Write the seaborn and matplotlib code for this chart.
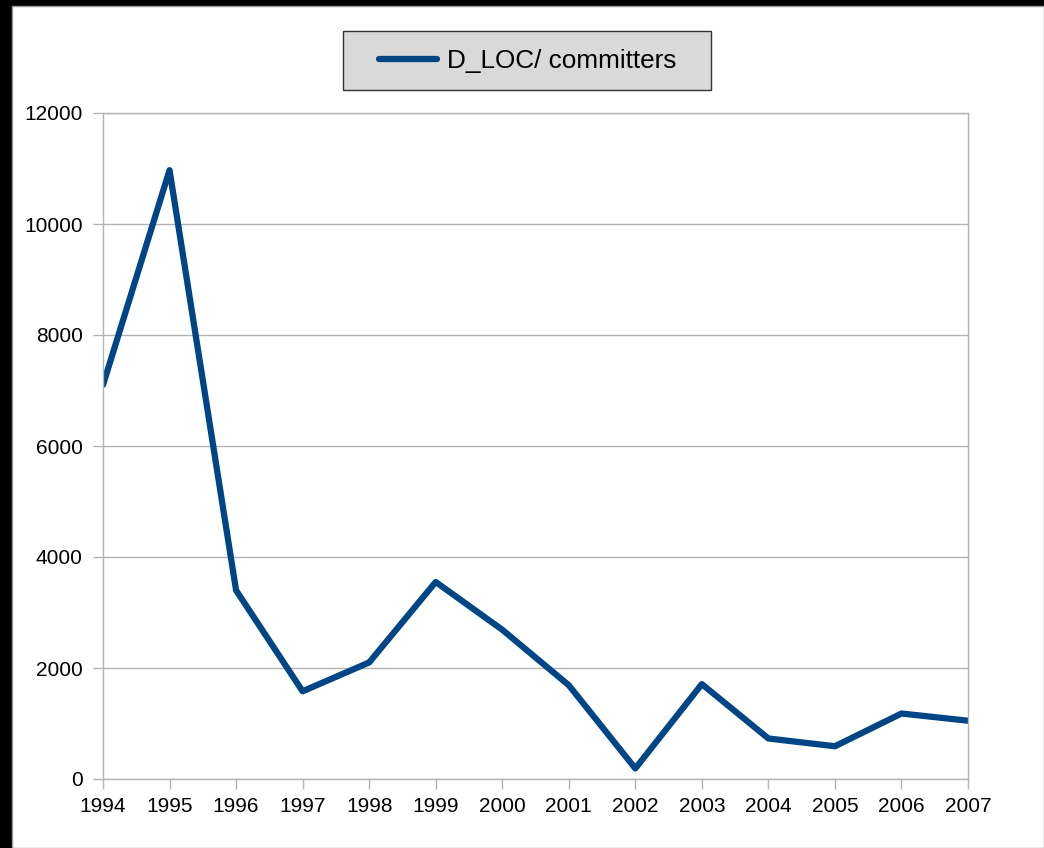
import matplotlib.pyplot as plt
import seaborn as sns
import pandas as pd
from matplotlib.patches import Rectangle

years = [1994, 1995, 1996, 1997, 1998, 1999, 2000, 2001, 2002, 2003, 2004, 2005, 2006, 2007]
dloc = [7100, 10970, 3400, 1580, 2100, 3550, 2690, 1690, 190, 1710, 730, 590, 1180, 1050]
series_name = "D_LOC/ committers"

df = pd.DataFrame({"year": years, "value": dloc})

sns.set_theme(style="white")
plt.rcParams['font.family'] = ['Liberation Sans', 'DejaVu Sans']

W, H = 1044, 848
fig = plt.figure(figsize=(W / 100, H / 100), dpi=100, facecolor="black")
# white page inside the black border
fig.patches.append(Rectangle((12 / W, 0), 1 - 12 / W, 1 - 6 / H,
                             transform=fig.transFigure, facecolor="white",
                             edgecolor="#999999", linewidth=1, zorder=-10))
# legend box
fig.patches.append(Rectangle((343 / W, 1 - 90 / H), (711 - 343) / W, (90 - 31) / H,
                             transform=fig.transFigure, facecolor="#d9d9d9",
                             edgecolor="#333333", linewidth=1, zorder=-5))

ax = fig.add_axes([103 / W, 1 - 779 / H, (968 - 103) / W, (779 - 113) / H])
ax.set_facecolor("white")

sns.lineplot(data=df, x="year", y="value", ax=ax, color="#004586",
             linewidth=4.5, label=series_name, legend=False)

ax.set_xlim(1994, 2007)
ax.set_ylim(0, 12000)
ax.set_xticks(years)
ax.set_xticklabels([str(y) for y in years])
ax.set_yticks(range(0, 12001, 2000))
ax.set_xlabel("")
ax.set_ylabel("")

ax.grid(axis="y", color="#b3b3b3", linewidth=1)
ax.set_axisbelow(True)
for s in ax.spines.values():
    s.set_color("#b3b3b3")
    s.set_linewidth(1)
ax.tick_params(axis="both", which="both", length=7.5, width=1, color="#b3b3b3",
               labelsize=15, labelcolor="black", direction="out",
               bottom=True, left=True)
ax.tick_params(axis="x", pad=5.5)
ax.tick_params(axis="y", pad=7)

leg = fig.legend(handles=ax.get_lines(), labels=[series_name],
                 loc="center", bbox_to_anchor=(528 / W, 1 - 61 / H),
                 fontsize=18.8, frameon=False, handlelength=2.2,
                 handletextpad=0.4, borderpad=0.5, borderaxespad=0,
                 labelcolor="black")

fig.savefig("out.png", dpi=100, facecolor="black")
